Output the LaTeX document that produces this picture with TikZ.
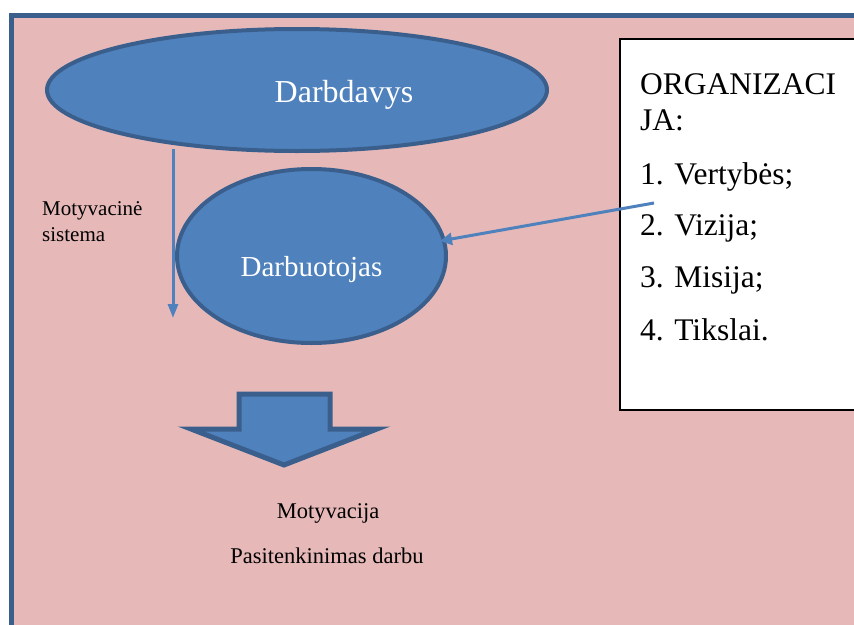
\documentclass[tikz,border=0pt]{standalone}
\usepackage{fontspec}
\setmainfont{Liberation Serif}
\usetikzlibrary{shapes.geometric,arrows.meta}
\definecolor{pinkbg}{HTML}{E6B9B8}
\definecolor{bluefill}{HTML}{4F81BD}
\definecolor{blueline}{HTML}{3A5F8D}
\tikzset{
  blueoval/.style={ellipse, draw=blueline, fill=bluefill, line width=4pt, inner sep=0pt},
  wtext/.style={text=white, inner sep=0pt, anchor=base},
  ktext/.style={text=black, inner sep=0pt, anchor=base},
  listtext/.style={text=black, inner sep=0pt, anchor=base west, font=\fontsize{31.5}{36}\selectfont},
  bluearrow/.style={draw=bluefill, line width=3pt},
}
\begin{document}
\begin{tikzpicture}[x=1pt,y=-1pt]
\useasboundingbox (0,0) rectangle (854,624);
\clip (0,0) rectangle (854,624);
\fill[white] (0,0) rectangle (854,624);
% outer frame
\draw[draw=blueline, fill=pinkbg, line width=4.5pt] (11.5,15.5) rectangle (900,700);
% organisation box
\node[draw=black, fill=white, line width=2pt, minimum width=300pt, minimum height=371pt, anchor=north west, inner sep=0pt] (org) at (619,38) {};
\node[listtext] (o1) at (640,94) {ORGANIZACI};
\node[listtext] (o2) at (640,130) {JA:};
\node[listtext] (o3) at (640,184) {1. Vertybės;};
\node[listtext] (o4) at (640,235) {2. Vizija;};
\node[listtext] (o5) at (640,287) {3. Misija;};
\node[listtext] (o6) at (640,340) {4. Tikslai.};
% ellipses
\node[blueoval, minimum width=500pt, minimum height=122pt] (dd) at (297,90) {};
\node[wtext, font=\fontsize{32}{38}\selectfont] (ddt) at (344,102) {Darbdavys};
\node[blueoval, minimum width=269pt, minimum height=174pt] (dw) at (311.5,256) {};
\node[wtext, font=\fontsize{29}{34}\selectfont] (dwt) at (311.5,276) {Darbuotojas};
% vertical arrow
\coordinate (va) at (173,149);
\coordinate (vb) at (173,318);
\draw[bluearrow, -{Triangle[length=14pt,width=10pt]}] (va) -- (vb);
\node[ktext, anchor=base west, font=\fontsize{21}{25}\selectfont] (ms1) at (42,215) {Motyvacinė};
\node[ktext, anchor=base west, font=\fontsize{21}{25}\selectfont] (ms2) at (42,241) {sistema};
% arrow from box
\coordinate (ba) at (654,203);
\coordinate (bb) at (440,241);
\draw[bluearrow, -{Triangle[length=12pt,width=12pt]}] (ba) -- (bb);
% block arrow
\draw[draw=blueline, fill=bluefill, line width=5pt, line join=miter]
  (239,394) -- (330,394) -- (330,429) -- (377,429) -- (284,465) -- (191,429) -- (239,429) -- cycle;
\node[ktext, font=\fontsize{22.5}{27}\selectfont] (mv) at (328,518) {Motyvacija};
\node[ktext, font=\fontsize{22.5}{27}\selectfont] (pd) at (327,563) {Pasitenkinimas darbu};
\end{tikzpicture}
\end{document}
